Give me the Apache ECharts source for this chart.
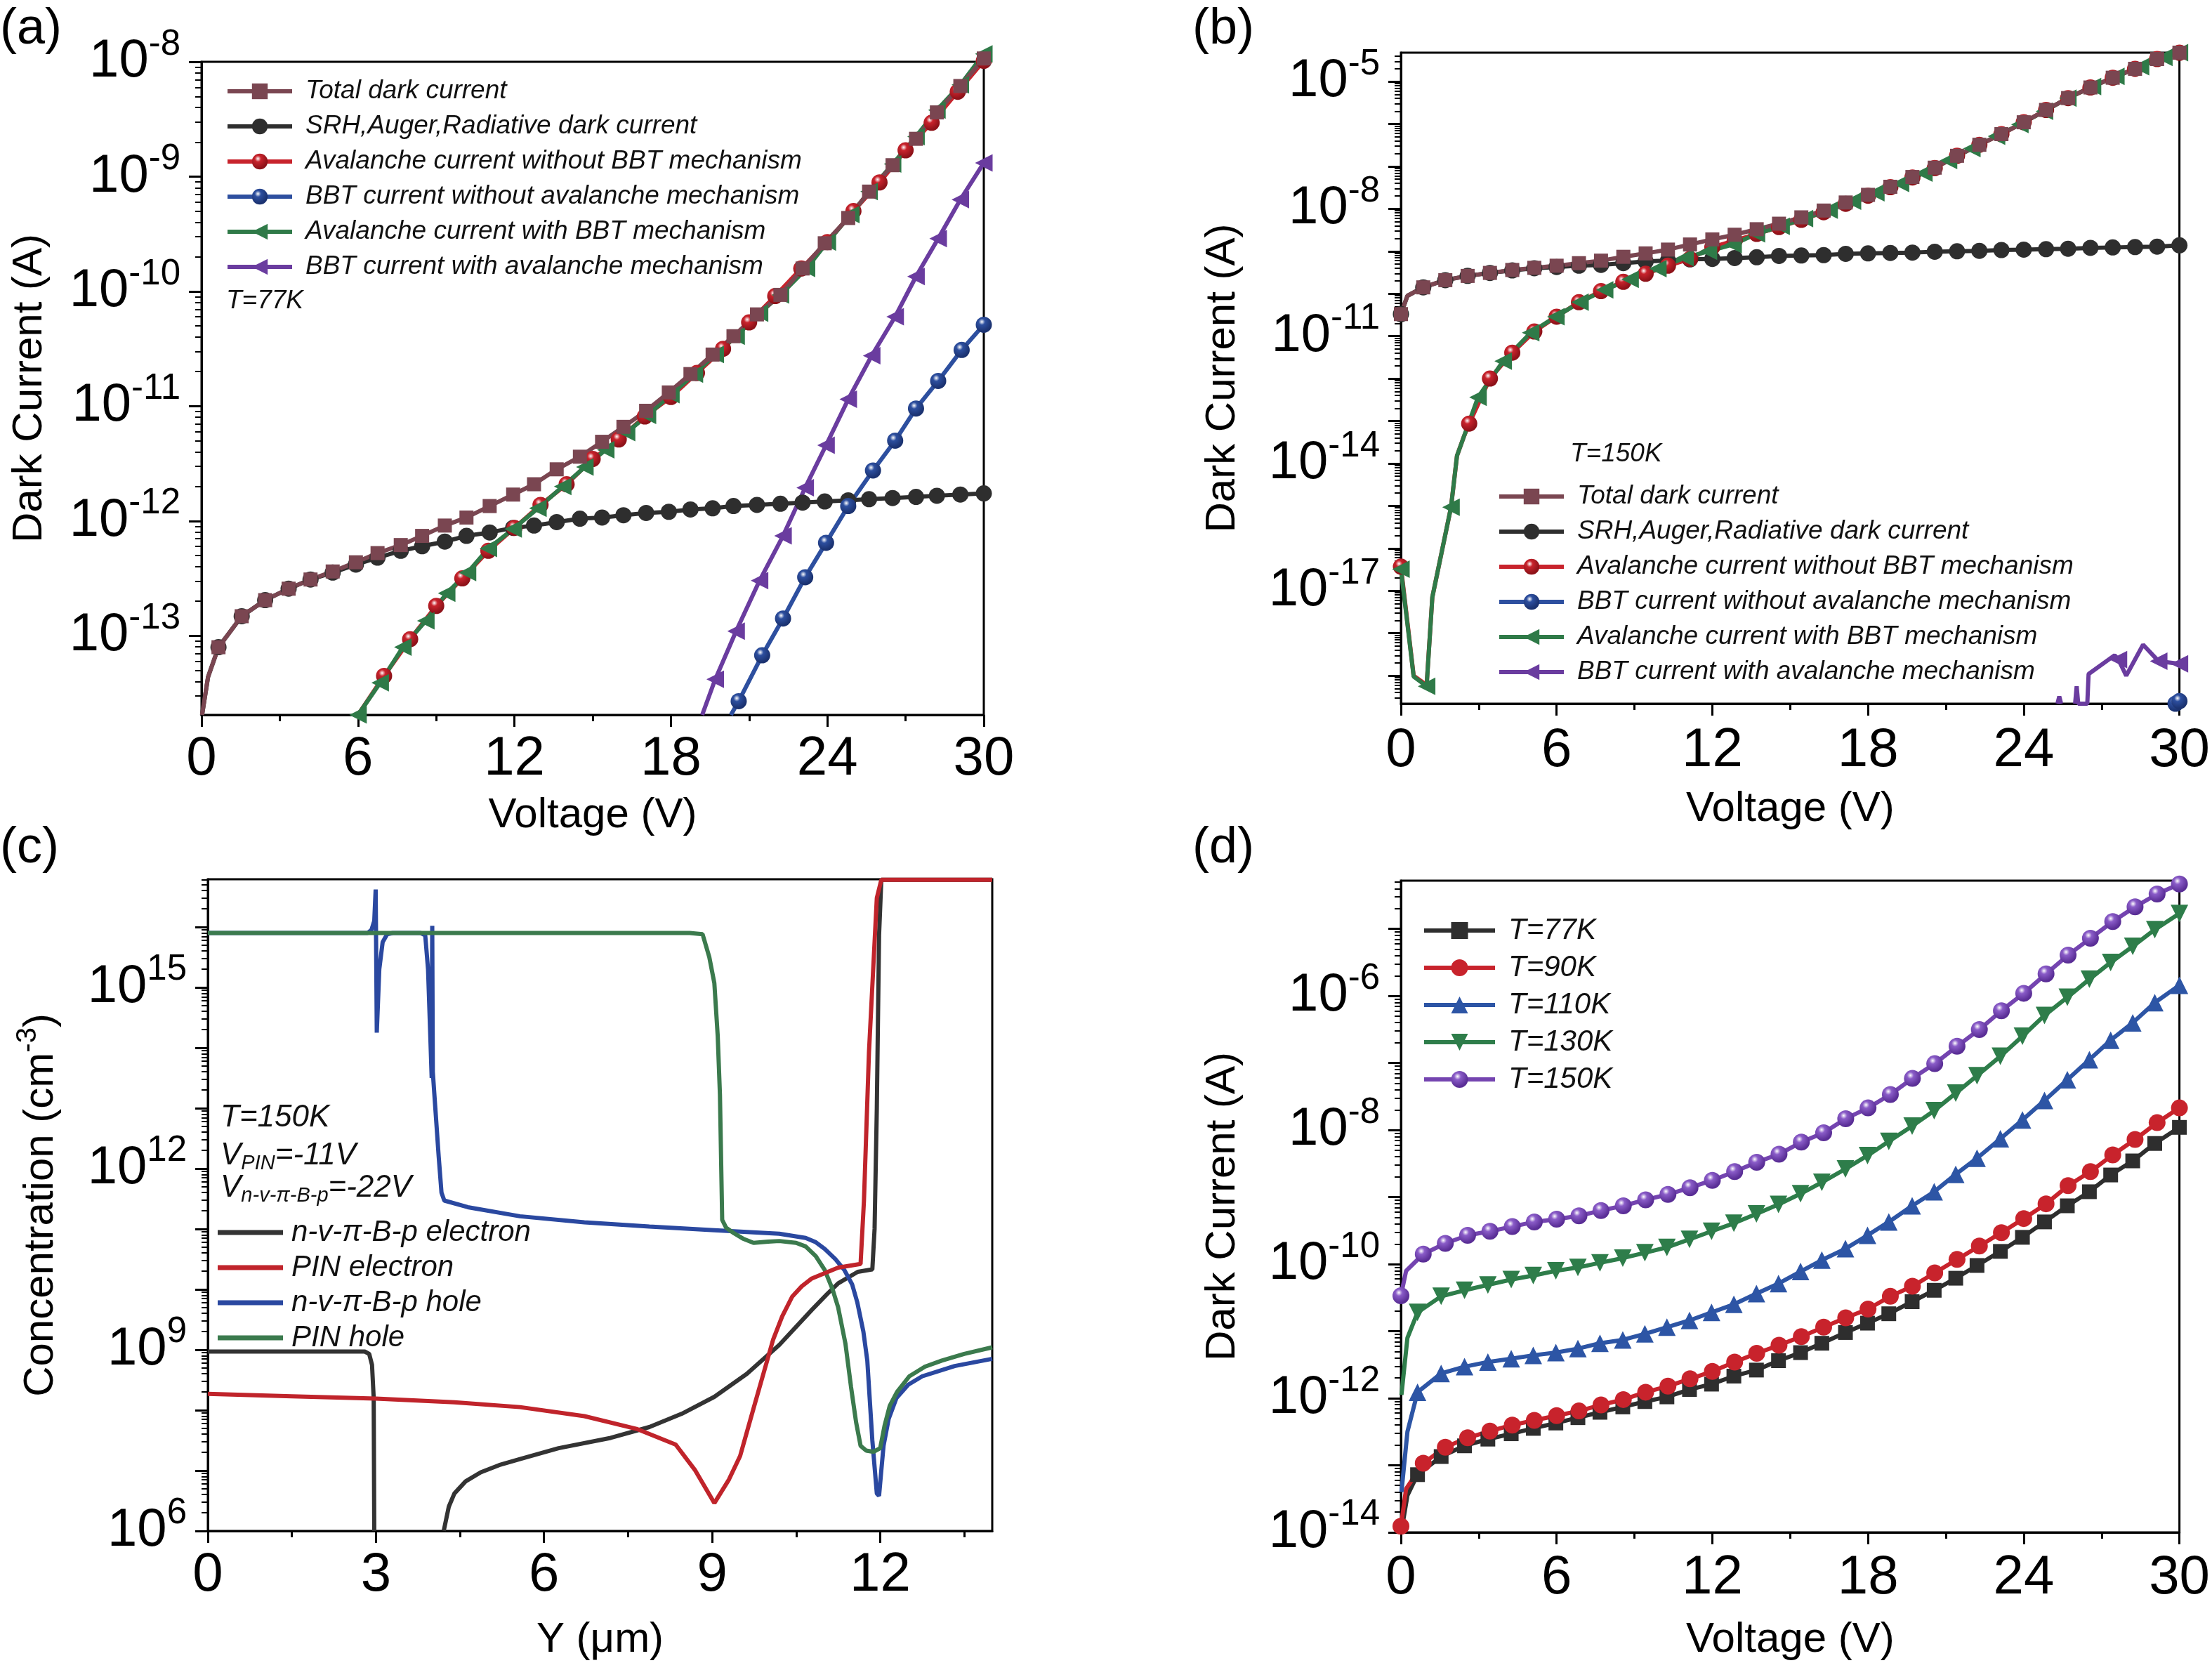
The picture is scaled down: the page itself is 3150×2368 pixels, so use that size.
<!DOCTYPE html>
<html>
<head>
<meta charset="utf-8">
<script src="https://cdn.jsdelivr.net/npm/echarts@6/dist/echarts.min.js"></script>
<style>
  html, body { margin: 0; padding: 0; background: #fff; }
  #chart { width: 3150px; height: 2368px; }
</style>
</head>
<body>
<div id="chart"></div>
<script>

// (a) T = 77K
const A_Vsq = [0.02, 0.25, 0.65, 1.54, 2.44, 3.34, 4.18, 5.03, 5.92, 6.75, 7.64, 8.46, 9.33, 10.16, 11.05, 11.95, 12.75, 13.62, 14.51, 15.36, 16.18, 17.05, 17.92, 18.75, 19.6, 20.4, 21.3, 22.2, 23.05, 23.9, 24.8, 25.6, 26.5, 27.4, 28.2, 29.1, 30]
const A_total = [-13.69, -13.36, -13.10, -12.83, -12.69, -12.59, -12.51, -12.44, -12.36, -12.28, -12.21, -12.13, -12.04, -11.97, -11.87, -11.77, -11.68, -11.55, -11.44, -11.31, -11.18, -11.04, -10.88, -10.72, -10.55, -10.39, -10.20, -10.03, -9.80, -9.58, -9.36, -9.13, -8.90, -8.67, -8.44, -8.21, -7.97]
const A_srh = [-13.69, -13.36, -13.10, -12.83, -12.69, -12.59, -12.51, -12.45, -12.38, -12.32, -12.26, -12.22, -12.18, -12.13, -12.10, -12.06, -12.04, -12.01, -11.98, -11.97, -11.95, -11.93, -11.92, -11.90, -11.89, -11.87, -11.86, -11.85, -11.84, -11.83, -11.82, -11.81, -11.80, -11.79, -11.78, -11.77, -11.76]
const A_Vred = [6, 7, 8, 9, 10, 11, 12, 13, 14, 15, 16, 17, 18, 19, 20, 21, 22, 23, 24, 25, 26, 27, 28, 29, 30]
const A_avNoBBT = [-13.69, -13.35, -13.03, -12.74, -12.50, -12.26, -12.06, -11.86, -11.68, -11.46, -11.29, -11.09, -10.92, -10.71, -10.50, -10.27, -10.04, -9.80, -9.57, -9.30, -9.05, -8.77, -8.53, -8.26, -7.99]
const A_Vgreen = [6.0, 6.85, 7.72, 8.6, 9.4, 10.2, 11.0, 11.95, 12.9, 13.85, 14.7, 15.5, 16.3, 17.1, 18.0, 18.9, 19.7, 20.5, 21.4, 22.2, 23.2, 24.0, 24.9, 25.6, 26.5, 27.4, 28.2, 29.1, 30.0]
const A_avBBT = [-13.69, -13.41, -13.10, -12.87, -12.63, -12.45, -12.24, -12.07, -11.89, -11.70, -11.53, -11.38, -11.23, -11.08, -10.90, -10.72, -10.55, -10.39, -10.19, -10.03, -9.80, -9.57, -9.33, -9.13, -8.89, -8.65, -8.42, -8.20, -7.93]
const A_Vpurple = [19.2, 19.7, 20.5, 21.4, 22.3, 23.15, 23.95, 24.8, 25.7, 26.6, 27.4, 28.25, 29.1, 30]
const A_bbtAv = [-13.69, -13.38, -12.96, -12.52, -12.13, -11.71, -11.34, -10.94, -10.56, -10.22, -9.87, -9.54, -9.20, -8.88]
const A_Vblue = [20.3, 20.6, 21.5, 22.3, 23.15, 23.95, 24.8, 25.75, 26.6, 27.4, 28.25, 29.15, 30]
const A_bbtNoAv = [-13.69, -13.57, -13.17, -12.85, -12.49, -12.19, -11.87, -11.56, -11.30, -11.02, -10.78, -10.51, -10.29]

// (b) T = 150K
const B_Vsq = [0, 0.25, 0.86, 1.71, 2.57, 3.43, 4.29, 5.14, 6, 6.86, 7.71, 8.57, 9.43, 10.29, 11.14, 12, 12.86, 13.71, 14.57, 15.43, 16.29, 17.14, 18, 18.86, 19.71, 20.57, 21.43, 22.29, 23.14, 24, 24.86, 25.71, 26.57, 27.43, 28.29, 29.14, 30]
const B_total = [-10.48, -10.05, -9.85, -9.68, -9.58, -9.51, -9.44, -9.39, -9.34, -9.28, -9.22, -9.13, -9.05, -8.96, -8.84, -8.72, -8.61, -8.48, -8.35, -8.20, -8.04, -7.85, -7.67, -7.48, -7.25, -7.03, -6.75, -6.49, -6.24, -5.96, -5.67, -5.39, -5.14, -4.91, -4.70, -4.47, -4.32]
const B_srh = [-10.48, -10.05, -9.85, -9.68, -9.58, -9.51, -9.45, -9.40, -9.37, -9.34, -9.32, -9.28, -9.24, -9.22, -9.19, -9.18, -9.16, -9.14, -9.11, -9.10, -9.09, -9.06, -9.05, -9.04, -9.03, -9.01, -9.00, -8.99, -8.97, -8.96, -8.95, -8.94, -8.92, -8.91, -8.90, -8.89, -8.86]
const B_Vred = [0, 0.49, 0.99, 1.21, 1.93, 2.16, 2.43, 2.63, 3.43, 4.29, 5.14, 6, 6.86, 7.71, 8.57, 9.43, 10.29, 11.14, 12, 12.86, 13.71, 14.57, 15.43, 16.29, 17.14, 18, 18.86, 19.71, 20.57, 21.43, 22.29, 23.14, 24, 24.86, 25.71, 26.57, 27.43, 28.29, 29.14, 30]
const B_avNoBBT = [-16.43, -19.0, -19.22, -17.15, -15.03, -13.82, -13.36, -13.06, -12.0, -11.39, -10.89, -10.54, -10.20, -9.94, -9.72, -9.53, -9.34, -9.18, -8.90, -8.75, -8.59, -8.43, -8.26, -8.08, -7.88, -7.69, -7.49, -7.26, -7.04, -6.75, -6.49, -6.24, -5.96, -5.67, -5.39, -5.14, -4.91, -4.70, -4.47, -4.32]
const B_Vgreen = [0, 0.49, 0.99, 1.21, 1.93, 2.16, 2.43, 2.97, 3.94, 5.0, 5.97, 6.9, 7.85, 8.83, 9.9, 10.95, 11.85, 12.8, 13.7, 14.65, 15.55, 16.5, 17.4, 18.3, 19.25, 20.15, 21.1, 22.0, 22.95, 23.85, 24.8, 25.7, 26.65, 27.55, 28.5, 29.4, 30]
const B_avBBT = [-16.49, -19.02, -19.25, -17.15, -15.03, -13.82, -13.36, -12.44, -11.59, -10.92, -10.54, -10.20, -9.91, -9.66, -9.41, -9.15, -9.0, -8.84, -8.59, -8.41, -8.23, -8.03, -7.82, -7.62, -7.40, -7.16, -6.86, -6.58, -6.29, -6.01, -5.70, -5.39, -5.12, -4.88, -4.65, -4.43, -4.32]
const B_Vpurple = [25.3, 25.37, 25.44, 25.6, 25.98, 26.04, 26.1, 26.45, 26.5, 27.5, 27.65, 27.95, 28.6, 29.2, 30]
const B_bbtAv = [-19.66, -19.49, -19.66, null, -19.66, -19.25, -19.66, -19.66, -18.96, -18.52, -18.62, -19.0, -18.27, -18.66, -18.72]
const B_Vblue = [29.85, 30]
const B_bbtNoAv = [-19.66, -19.6]

// (c) carrier concentration, Y in µm
const C_yBlackE = [0, 2.8, 2.88, 2.93, 2.96, 2.97, 3.5, 4.21, 4.3, 4.4, 4.6, 4.87, 5.2, 5.57, 6.26, 7.19, 7.88, 8.46, 9.04, 9.62, 10.2, 10.78, 11.05, 11.25, 11.6, 11.86, 11.9, 11.94, 11.98, 12.02, 14]
const C_blackE = [8.97, 8.97, 8.93, 8.75, 8.2, 6.0, null, 6.0, 6.4, 6.62, 6.82, 6.97, 7.09, 7.19, 7.37, 7.54, 7.72, 7.94, 8.22, 8.6, 9.08, 9.66, 9.92, 10.1, 10.29, 10.33, 11.0, 13.0, 15.86, 16.78, 16.78]
const C_yRedE = [0, 1.5, 3.0, 4.4, 5.57, 6.72, 7.65, 8.35, 8.7, 9.04, 9.3, 9.5, 9.74, 10.09, 10.25, 10.43, 10.6, 10.78, 11.25, 11.65, 11.71, 11.8, 11.94, 12.02, 14]
const C_redE = [8.27, 8.23, 8.19, 8.13, 8.05, 7.9, 7.69, 7.43, 7.0, 6.46, 6.85, 7.24, 8.03, 9.17, 9.55, 9.88, 10.05, 10.18, 10.36, 10.42, 11.46, 13.93, 16.48, 16.78, 16.78]
const C_yBlueH = [0, 2.85, 2.92, 2.97, 2.995, 3.005, 3.015, 3.06, 3.12, 3.2, 3.3, 3.8, 3.88, 3.93, 3.97, 3.995, 4.005, 4.015, 4.06, 4.12, 4.17, 4.22, 4.64, 5.57, 6.72, 7.88, 9.04, 9.62, 10.2, 10.67, 10.85, 11.01, 11.2, 11.36, 11.5, 11.59, 11.7, 11.77, 11.86, 11.94, 11.98, 12.02, 12.06, 12.15, 12.29, 12.5, 12.75, 13.33, 14]
const C_blueH = [15.9, 15.9, 15.95, 16.1, 16.62, 15.5, 14.25, 15.3, 15.75, 15.88, 15.9, 15.9, 15.86, 15.3, 14.2, 13.5, 16.02, 13.6, 13.0, 12.2, 11.6, 11.47, 11.36, 11.21, 11.11, 11.04, 10.98, 10.95, 10.92, 10.85, 10.78, 10.67, 10.5, 10.32, 10.08, 9.79, 9.3, 8.82, 7.5, 6.62, 6.58, 7.0, 7.41, 7.85, 8.2, 8.42, 8.56, 8.73, 8.85]
const C_yGreenH = [0, 8.6, 8.83, 8.95, 9.04, 9.1, 9.14, 9.18, 9.25, 9.39, 9.55, 9.74, 10.0, 10.2, 10.5, 10.67, 10.85, 11.01, 11.15, 11.25, 11.38, 11.48, 11.57, 11.65, 11.75, 11.88, 12.0, 12.08, 12.17, 12.3, 12.52, 12.8, 13.1, 13.5, 14]
const C_greenH = [15.9, 15.9, 15.88, 15.5, 15.07, 14.2, 13.22, 11.15, 11.02, 10.93, 10.84, 10.77, 10.79, 10.8, 10.77, 10.71, 10.55, 10.32, 10.0, 9.7, 9.1, 8.38, 7.8, 7.41, 7.33, 7.31, 7.37, 7.75, 8.07, 8.3, 8.56, 8.72, 8.82, 8.93, 9.04]

// (d) dark current vs temperature
const D_Vsq = [0.02, 0.25, 0.64, 1.55, 2.45, 3.35, 4.25, 5.1, 5.97, 6.82, 7.67, 8.55, 9.4, 10.25, 11.12, 11.97, 12.83, 13.7, 14.55, 15.4, 16.22, 17.13, 17.98, 18.8, 19.7, 20.55, 21.38, 22.2, 23.1, 23.95, 24.8, 25.68, 26.53, 27.35, 28.2, 29.05, 30]
const D_Vci = [0, 0.2, 0.86, 1.71, 2.57, 3.43, 4.29, 5.14, 6, 6.86, 7.71, 8.57, 9.43, 10.29, 11.14, 12, 12.86, 13.71, 14.57, 15.43, 16.29, 17.14, 18, 18.86, 19.71, 20.57, 21.43, 22.29, 23.14, 24, 24.86, 25.71, 26.57, 27.43, 28.29, 29.14, 30]
const D_77K = [-13.98, -13.45, -13.14, -12.87, -12.71, -12.61, -12.53, -12.45, -12.37, -12.29, -12.21, -12.13, -12.05, -11.98, -11.87, -11.79, -11.67, -11.58, -11.44, -11.32, -11.18, -11.02, -10.88, -10.74, -10.56, -10.39, -10.21, -10.02, -9.81, -9.60, -9.37, -9.13, -8.92, -8.67, -8.46, -8.20, -7.96]
const D_90K = [-13.91, -13.35, -12.97, -12.73, -12.59, -12.49, -12.40, -12.33, -12.26, -12.19, -12.10, -12.02, -11.91, -11.82, -11.71, -11.60, -11.46, -11.33, -11.21, -11.08, -10.94, -10.80, -10.67, -10.48, -10.33, -10.13, -9.93, -9.73, -9.53, -9.32, -9.10, -8.83, -8.62, -8.37, -8.14, -7.89, -7.67]
const D_110K = [-13.4, -12.5, -11.91, -11.63, -11.53, -11.46, -11.41, -11.36, -11.32, -11.26, -11.18, -11.13, -11.04, -10.94, -10.84, -10.72, -10.60, -10.44, -10.29, -10.11, -9.94, -9.77, -9.57, -9.37, -9.13, -8.92, -8.66, -8.42, -8.13, -7.85, -7.56, -7.25, -6.95, -6.66, -6.40, -6.10, -5.84]
const D_130K = [-11.95, -11.1, -10.72, -10.48, -10.39, -10.31, -10.23, -10.17, -10.10, -10.05, -9.98, -9.91, -9.83, -9.75, -9.63, -9.51, -9.39, -9.25, -9.11, -8.95, -8.78, -8.58, -8.38, -8.17, -7.94, -7.71, -7.45, -7.19, -6.90, -6.60, -6.29, -6.02, -5.75, -5.50, -5.26, -5.01, -4.77]
const D_150K = [-10.47, -10.1, -9.85, -9.69, -9.57, -9.51, -9.44, -9.37, -9.33, -9.28, -9.20, -9.13, -9.04, -8.96, -8.86, -8.75, -8.62, -8.48, -8.36, -8.18, -8.04, -7.83, -7.67, -7.47, -7.23, -7.01, -6.75, -6.50, -6.22, -5.96, -5.67, -5.39, -5.14, -4.89, -4.67, -4.48, -4.33]

// tick labels
const X_LABELS_V = [0, 6, 12, 18, 24, 30]
const X_MINOR_V = [3, 9, 15, 21, 27]
const X_LABELS_Y = [0, 3, 6, 9, 12]
const X_MINOR_Y = [1.5, 4.5, 7.5, 10.5, 13.5]
const A_DEC = [-13, -12, -11, -10, -9, -8]
const B_DEC = [-17, -14, -11, -8, -5]
const C_DEC = [6, 9, 12, 15]
const D_DEC = [-14, -12, -10, -8, -6]

const NAMES_AB = ['Total dark current', 'SRH,Auger,Radiative dark current', 'Avalanche current without BBT mechanism', 'BBT current without avalanche mechanism', 'Avalanche current with BBT mechanism', 'BBT current with avalanche mechanism']
const NAMES_B = NAMES_AB.map(n => n + ' ')
const NAMES_C = ['n-v-π-B-p electron', 'PIN electron', 'n-v-π-B-p hole', 'PIN hole']
const NAMES_D = ['T=77K', 'T=90K', 'T=110K', 'T=130K', 'T=150K']

// ---- helpers ----
const FONT = '"Liberation Sans", Arial, Helvetica, sans-serif'
const pow10 = v => Math.pow(10, v)

const pts = (xs, ys, hide = []) => xs.map((x, i) => {
    if (ys[i] === null) return { value: [x, '-'] }
    const item = { value: [x, pow10(ys[i])] }
    if (hide.includes(i)) item.symbol = 'none'
    return item
})

const decades = (lo, hi) => {
    const r = []
    for (let e = Math.ceil(lo); e <= Math.floor(hi); e++) r.push(pow10(e))
    return r
}
const minors = (lo, hi) => {
    const r = []
    for (let e = Math.floor(lo); e <= Math.ceil(hi); e++) {
        for (let k = 2; k <= 9; k++) {
            const l = e + Math.log10(k)
            if (l > lo && l < hi) r.push(k * pow10(e))
        }
    }
    return r
}

const gloss = (c, dark) => new echarts.graphic.RadialGradient(0.38, 0.32, 0.62, [
    { offset: 0, color: '#ffffff' },
    { offset: 0.32, color: c },
    { offset: 1, color: dark }
])

const black = { color: '#000', width: 3 }
const tickRich = {
    b: { fontSize: 76, fontFamily: FONT, color: '#000', lineHeight: 100 },
    s: { fontSize: 51, fontFamily: FONT, color: '#000', lineHeight: 50, verticalAlign: 'top' }
}
const nameStyle = { fontSize: 60, fontFamily: FONT, color: '#000' }

function xAxes(g, max, labels, minorVals, name, gap, margin) {
    const common = { type: 'value', gridIndex: g, min: 0, max, position: 'bottom', splitLine: { show: false } }
    return [
        {
            ...common, name, nameLocation: 'middle', nameGap: gap, nameTextStyle: nameStyle,
            axisLine: { onZero: false, lineStyle: black },
            axisTick: { customValues: labels, length: 17, lineStyle: black },
            axisLabel: { customValues: labels, fontSize: 78, fontFamily: FONT, color: '#000', margin }
        },
        {
            ...common,
            axisLine: { show: false, onZero: false },
            axisLabel: { show: false },
            axisTick: { customValues: minorVals, length: 9, lineStyle: black }
        }
    ]
}

function yAxes(g, lo, hi, labelExp, name, gap, nStyle) {
    const common = { type: 'log', logBase: 10, gridIndex: g, min: pow10(lo), max: pow10(hi), position: 'left', splitLine: { show: false } }
    return [
        {
            ...common, name, nameLocation: 'middle', nameGap: gap, nameTextStyle: nStyle || nameStyle,
            axisLine: { show: true, lineStyle: black },
            axisTick: { customValues: decades(lo, hi), length: 18, lineStyle: black },
            axisLabel: {
                customValues: labelExp.map(pow10), margin: 30, rich: tickRich,
                formatter: v => '{b|10}{s|' + Math.round(Math.log10(v)) + '}'
            }
        },
        {
            ...common,
            axisLine: { show: false },
            axisLabel: { show: false },
            axisTick: { customValues: minors(lo, hi), length: 9, lineStyle: { color: '#000', width: 2 } }
        }
    ]
}

function line(name, g, xs, ys, o = {}) {
    return {
        name, type: 'line', xAxisIndex: 2 * g, yAxisIndex: 2 * g,
        data: pts(xs, ys, o.hide), clip: false, smooth: false,
        symbol: o.symbol || 'none', symbolSize: o.size || 22, symbolRotate: o.rotate || 0,
        lineStyle: { color: o.color, width: o.width || 6 },
        itemStyle: { color: o.fill || o.color },
        emphasis: { disabled: true }, silent: true
    }
}

const COL = {
    total: '#7A4651', srh: '#2E2E2E', red: '#C8232C', redDk: '#8E1219',
    blue: '#2D4F9F', blueDk: '#1B3270', green: '#2F7A48', purple: '#6A3C9F'
}

const legendText = (size, lh, pad) => ({
    fontFamily: FONT, fontSize: size, fontStyle: 'italic', color: '#111', lineHeight: lh, padding: [0, 0, 0, pad]
})

const option = {
    animation: false,
    backgroundColor: '#fff',
    grid: [
        { left: 287, top: 88, width: 1114, height: 930 },
        { left: 1995, top: 75, width: 1114, height: 927 },
        { left: 296, top: 1252, width: 1117, height: 928 },
        { left: 1995, top: 1254, width: 1114, height: 928 }
    ].map(g => ({ ...g, show: true, borderColor: '#000', borderWidth: 3, backgroundColor: 'transparent' })),
    xAxis: [
        ...xAxes(0, 30, X_LABELS_V, X_MINOR_V, 'Voltage (V)', 113, 24),
        ...xAxes(1, 30, X_LABELS_V, X_MINOR_V, 'Voltage (V)', 120, 28),
        ...xAxes(2, 14, X_LABELS_Y, X_MINOR_Y, 'Y (μm)', 125, 24),
        ...xAxes(3, 30, X_LABELS_V, X_MINOR_V, 'Voltage (V)', 123, 26)
    ],
    yAxis: [
        ...yAxes(0, -13.69, -7.999, A_DEC, 'Dark Current (A)', 215),
        ...yAxes(1, -19.66, -4.32, B_DEC, 'Dark Current (A)', 224),
        ...yAxes(2, 5.999, 16.79, C_DEC, '{a|Concentration (cm}{s|-3}{a|)}', 200, {
            rich: {
                a: { fontSize: 60, fontFamily: FONT, color: '#000', lineHeight: 76 },
                s: { fontSize: 40, fontFamily: FONT, color: '#000', lineHeight: 40, verticalAlign: 'top' }
            }
        }),
        ...yAxes(3, -14.001, -4.28, D_DEC, 'Dark Current (A)', 224)
    ],
    legend: [
        {
            orient: 'vertical', left: 316, top: 104, itemWidth: 92, itemHeight: 28, itemGap: 8,
            selectedMode: false, data: NAMES_AB, textStyle: legendText(37, 42, 14), lineStyle: { width: 6 }
        },
        {
            orient: 'vertical', left: 2127, top: 681, itemWidth: 92, itemHeight: 28, itemGap: 8,
            selectedMode: false, data: NAMES_B, textStyle: legendText(37, 42, 14), lineStyle: { width: 6 }
        },
        {
            orient: 'vertical', left: 305, top: 1728, itemWidth: 93, itemHeight: 7, itemGap: 6, icon: 'rect',
            selectedMode: false, data: NAMES_C, textStyle: legendText(42, 44, 7)
        },
        {
            orient: 'vertical', left: 2020, top: 1298, itemWidth: 101, itemHeight: 30, itemGap: 9,
            selectedMode: false, data: NAMES_D, textStyle: legendText(42, 44, 14), lineStyle: { width: 6 }
        }
    ],
    graphic: [
        { type: 'text', left: 0, top: 6, style: { text: '(a)', fontSize: 72, fontFamily: FONT, fill: '#000' } },
        { type: 'text', left: 1698, top: 6, style: { text: '(b)', fontSize: 72, fontFamily: FONT, fill: '#000' } },
        { type: 'text', left: 0, top: 1172, style: { text: '(c)', fontSize: 72, fontFamily: FONT, fill: '#000' } },
        { type: 'text', left: 1698, top: 1172, style: { text: '(d)', fontSize: 72, fontFamily: FONT, fill: '#000' } },
        { type: 'text', left: 322, top: 410, style: { text: 'T=77K', fontSize: 37, fontStyle: 'italic', fontFamily: FONT, fill: '#111' } },
        { type: 'text', left: 2236, top: 628, style: { text: 'T=150K', fontSize: 37, fontStyle: 'italic', fontFamily: FONT, fill: '#111' } },
        { type: 'text', left: 314, top: 1570, style: { text: 'T=150K', fontSize: 44, fontStyle: 'italic', fontFamily: FONT, fill: '#111' } },
        {
            type: 'text', left: 314, top: 1624,
            style: {
                text: '{v|V}{u|PIN}{v|=-11V}',
                rich: {
                    v: { fontSize: 44, fontStyle: 'italic', fontFamily: FONT, fill: '#111', lineHeight: 50 },
                    u: { fontSize: 29, fontStyle: 'italic', fontFamily: FONT, fill: '#111', lineHeight: 34, verticalAlign: 'bottom' }
                }
            }
        },
        {
            type: 'text', left: 314, top: 1670,
            style: {
                text: '{v|V}{u|n-v-π-B-p}{v|=-22V}',
                rich: {
                    v: { fontSize: 44, fontStyle: 'italic', fontFamily: FONT, fill: '#111', lineHeight: 50 },
                    u: { fontSize: 29, fontStyle: 'italic', fontFamily: FONT, fill: '#111', lineHeight: 34, verticalAlign: 'bottom' }
                }
            }
        }
    ],
    series: [
        // (a)
        line(NAMES_AB[1], 0, A_Vsq, A_srh, { symbol: 'circle', size: 23, color: COL.srh, hide: [0, 1] }),
        line(NAMES_AB[2], 0, A_Vred, A_avNoBBT, { symbol: 'circle', size: 23, color: COL.red, fill: gloss(COL.red, COL.redDk), hide: [0] }),
        line(NAMES_AB[4], 0, A_Vgreen, A_avBBT, { symbol: 'triangle', size: 25, rotate: 90, color: COL.green }),
        line(NAMES_AB[0], 0, A_Vsq, A_total, { symbol: 'rect', size: 20, color: COL.total, hide: [0, 1] }),
        line(NAMES_AB[3], 0, A_Vblue, A_bbtNoAv, { symbol: 'circle', size: 23, color: COL.blue, fill: gloss(COL.blue, COL.blueDk), hide: [0] }),
        line(NAMES_AB[5], 0, A_Vpurple, A_bbtAv, { symbol: 'triangle', size: 25, rotate: 90, color: COL.purple, hide: [0] }),
        // (b)
        line(NAMES_B[1], 1, B_Vsq, B_srh, { symbol: 'circle', size: 23, color: COL.srh, hide: [1] }),
        line(NAMES_B[2], 1, B_Vred, B_avNoBBT, { symbol: 'circle', size: 23, color: COL.red, fill: gloss(COL.red, COL.redDk), hide: [1, 2, 3, 4, 5, 6] }),
        line(NAMES_B[4], 1, B_Vgreen, B_avBBT, { symbol: 'triangle', size: 25, rotate: 90, color: COL.green, hide: [1, 3, 5, 6] }),
        line(NAMES_B[0], 1, B_Vsq, B_total, { symbol: 'rect', size: 20, color: COL.total, hide: [1] }),
        line(NAMES_B[3], 1, B_Vblue, B_bbtNoAv, { symbol: 'circle', size: 23, color: COL.blue, fill: gloss(COL.blue, COL.blueDk) }),
        line(NAMES_B[5], 1, B_Vpurple, B_bbtAv, { symbol: 'triangle', size: 25, rotate: 90, color: COL.purple, hide: [0, 1, 2, 3, 4, 5, 6, 7, 8, 9, 11, 12] }),
        // (c)
        line(NAMES_C[0], 2, C_yBlackE, C_blackE, { color: '#333333', width: 6 }),
        line(NAMES_C[2], 2, C_yBlueH, C_blueH, { color: '#2A48A0', width: 6 }),
        line(NAMES_C[3], 2, C_yGreenH, C_greenH, { color: '#3B7A4D', width: 6 }),
        line(NAMES_C[1], 2, C_yRedE, C_redE, { color: '#C0242B', width: 6 }),
        // (d)
        line(NAMES_D[0], 3, D_Vsq, D_77K, { symbol: 'rect', size: 21, color: '#2E2E2E', hide: [0, 1] }),
        line(NAMES_D[1], 3, D_Vci, D_90K, { symbol: 'circle', size: 24, color: '#C8232C', hide: [1] }),
        line(NAMES_D[2], 3, D_Vsq, D_110K, { symbol: 'triangle', size: 25, color: '#2D55A5', hide: [0, 1] }),
        line(NAMES_D[3], 3, D_Vsq, D_130K, { symbol: 'triangle', size: 25, rotate: 180, color: '#2E7D4A', hide: [0, 1] }),
        line(NAMES_D[4], 3, D_Vci, D_150K, { symbol: 'circle', size: 24, color: '#7444B0', fill: gloss('#8A5CC8', '#5A2E96'), hide: [1] })
    ]
}

const chart = echarts.init(document.querySelector('#chart'))
chart.setOption(option)
</script>
</body>
</html>
